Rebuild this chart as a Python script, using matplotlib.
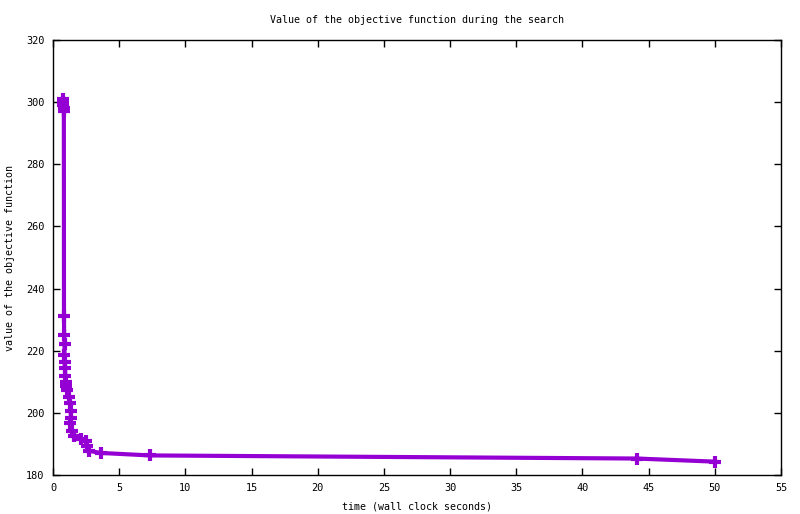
import matplotlib
matplotlib.use("Agg")
import matplotlib.pyplot as plt

# search trace: wall clock seconds vs objective value
time_s = [0.74, 0.76, 0.78, 0.80, 0.82, 0.83, 0.84, 0.88, 0.86, 0.88, 0.90, 0.93,
          0.96, 1.00, 1.05, 1.22, 1.29, 1.34, 1.36, 1.32, 1.46, 1.59, 2.10,
          2.50, 2.56, 2.70, 3.60, 7.30, 44.1, 50.0]
objective = [301.0, 300.0, 299.0, 298.0, 297.0, 231.1, 225.1, 222.3, 218.5, 216.5,
             214.5, 212.0, 210.0, 208.5, 207.5, 205.0, 203.3, 200.6, 198.5, 196.8,
             194.1, 192.4, 191.6, 190.8, 189.2, 187.8, 187.1, 186.3, 185.3, 184.3]

xticks = list(range(0, 56, 5))
yticks = list(range(180, 321, 20))

plt.rcParams["font.family"] = ["DejaVu Sans Mono"]
plt.rcParams["font.size"] = 7.2

fig = plt.figure(figsize=(8, 5.14), dpi=100)
ax = fig.add_axes([53 / 800, 1 - 475 / 514, 728 / 800, 435 / 514])

ax.plot(time_s, objective, color="#9400d3", linewidth=3.0,
        marker="+", markersize=8, markeredgewidth=3.0, solid_joinstyle="miter")

ax.set_xlim(0, 55)
ax.set_ylim(180, 320)
ax.set_xticks(xticks)
ax.set_yticks(yticks)
ax.tick_params(direction="in", top=True, right=True, length=5, width=1, pad=6,
               labelsize=7.4)
for s in ax.spines.values():
    s.set_linewidth(1)

ax.set_title("Value of the objective function during the search",
             fontsize=7.2, pad=12)
ax.set_xlabel("time (wall clock seconds)", fontsize=7.2, labelpad=6)
ax.set_ylabel("value of the objective function", fontsize=7.2, labelpad=8)

fig.savefig("out.png", dpi=100)
